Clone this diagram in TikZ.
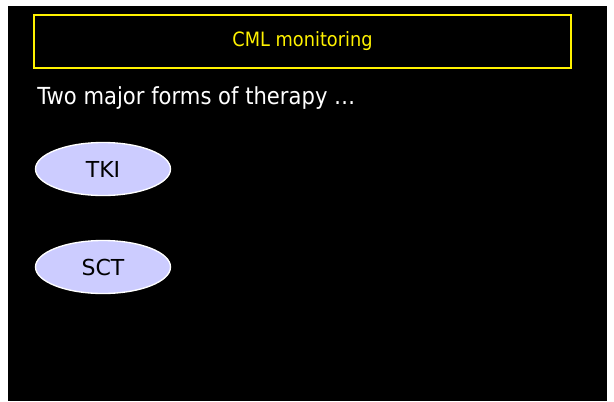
\documentclass[tikz,border=0pt]{standalone}
\usepackage{fontspec}
\setmainfont{DejaVu Sans}[FakeStretch=0.9]
\newfontfamily\ovalfont{DejaVu Sans}
\usetikzlibrary{shapes}
\definecolor{lavender}{HTML}{CCCCFF}

\begin{document}
\begin{tikzpicture}[x=0.75pt, y=-0.75pt, node distance = 73.5pt]
  \tikzstyle{slide} = [fill=black]
  \tikzstyle{titlebox} = [rectangle, draw=yellow, line width=1.5pt, text=yellow,
    minimum width=402.75pt, minimum height=39.75pt, font=\fontsize{14.8}{18}\selectfont]
  \tikzstyle{therapy} = [ellipse, draw=white, line width=1pt, fill=lavender,
    minimum width=101.25pt, minimum height=39.75pt, inner sep=0pt,
    font=\ovalfont\fontsize{16.5}{19}\selectfont]
  \tikzstyle{caption} = [text=white, inner sep=0pt, anchor=base west,
    font=\fontsize{17.6}{21}\selectfont]

  \useasboundingbox (0,0) rectangle (614,401);
  \fill [slide] (8,6) rectangle (607,401);

  % Place nodes
  \node [titlebox] (title) at (302.5,41.5) {CML monitoring};
  \node [caption] (intro) at (37,104) {Two major forms of therapy …};
  \node [therapy] (tki) at (103,169) {\raisebox{-1pt}{TKI}};
  \node [therapy, below of=tki] (sct) {\raisebox{-1pt}{SCT}};
\end{tikzpicture}
\end{document}
